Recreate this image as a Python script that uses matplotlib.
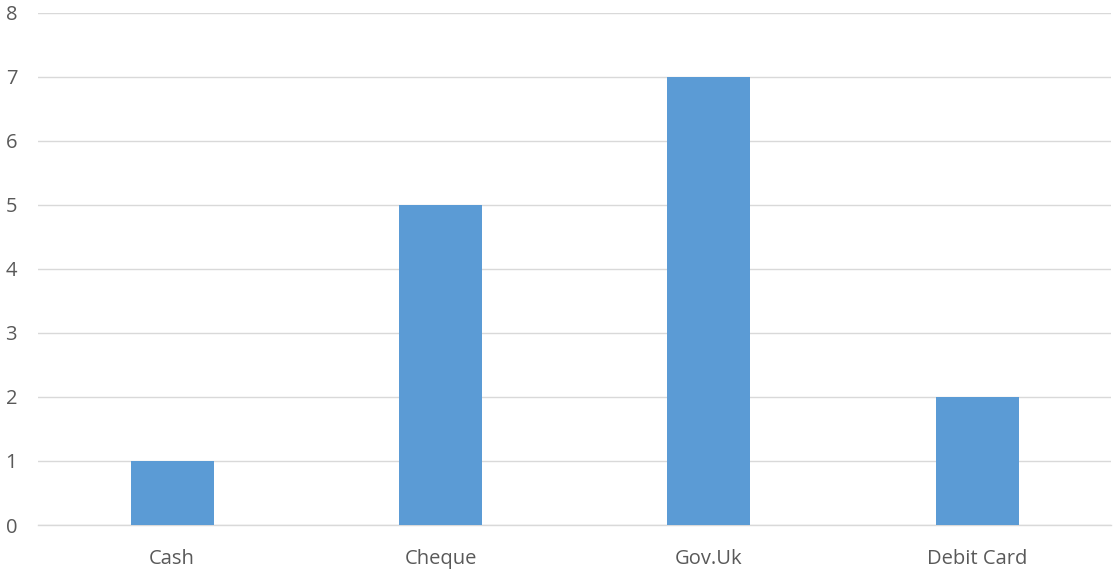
import matplotlib
matplotlib.use("Agg")
import matplotlib.pyplot as plt

# payment methods and counts
methods = ["Cash", "Cheque", "Gov.Uk", "Debit Card"]
counts = [1, 5, 7, 2]
yticks = [0, 1, 2, 3, 4, 5, 6, 7, 8]

plt.rcParams['font.family'] = ['Open Sans', 'DejaVu Sans']

fig = plt.figure(figsize=(11.14, 5.84), dpi=100)
ax = fig.add_axes([0.0341, 0.101, 0.9636, 0.877])

ax.bar(range(len(methods)), counts, width=0.31, color="#5B9BD5", zorder=3)

ax.set_xlim(-0.5, len(methods) - 0.5)
ax.set_ylim(0, 8)
ax.set_yticks(yticks)
ax.set_xticks(range(len(methods)))
ax.set_xticklabels(methods)
ax.yaxis.grid(True, color="#D9D9D9", linewidth=1, zorder=0)

for s in ["top", "right", "left"]:
    ax.spines[s].set_visible(False)
ax.spines["bottom"].set_color("#D9D9D9")
ax.spines["bottom"].set_linewidth(1)

ax.tick_params(axis="both", length=0, colors="#595959", labelsize=14.5)
ax.tick_params(axis="y", pad=15)
ax.tick_params(axis="x", pad=17)

fig.savefig("out.png", dpi=100)
